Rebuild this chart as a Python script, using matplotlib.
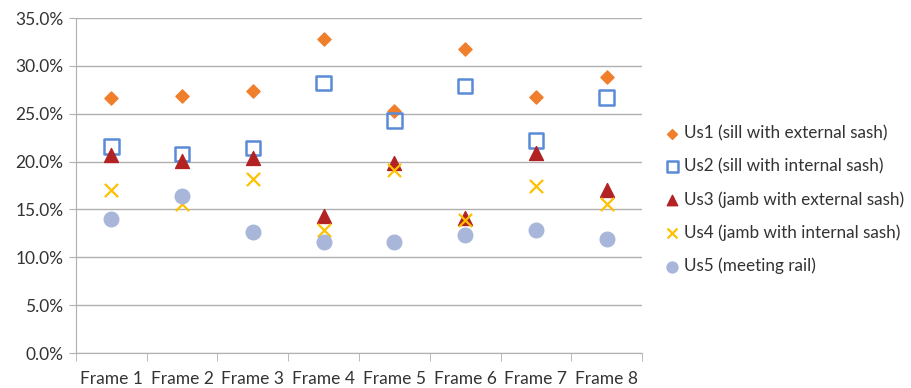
import numpy as np
import matplotlib.pyplot as plt
from matplotlib.ticker import FuncFormatter, FixedLocator

plt.rcParams['font.family'] = ['Lato', 'DejaVu Sans']

frames = ['Frame 1', 'Frame 2', 'Frame 3', 'Frame 4', 'Frame 5', 'Frame 6', 'Frame 7', 'Frame 8']
us1 = [26.6, 26.9, 27.4, 32.8, 25.3, 31.8, 26.7, 28.8]
us2 = [21.6, 20.8, 21.4, 28.2, 24.3, 27.9, 22.2, 26.7]
us3 = [20.7, 20.1, 20.4, 14.3, 19.9, 14.1, 20.9, 17.0]
us4 = [17.0, 15.6, 18.2, 12.9, 19.1, 13.9, 17.4, 15.6]
us5 = [14.0, 16.4, 12.6, 11.6, 11.6, 12.3, 12.8, 11.9]
labels = ['Us1 (sill with external sash)', 'Us2 (sill with internal sash)',
          'Us3 (jamb with external sash)', 'Us4 (jamb with internal sash)',
          'Us5 (meeting rail)']

fig = plt.figure(figsize=(9.12, 3.88), dpi=100)
ax = fig.add_axes([0.0833, 0.0902, 0.6207, 0.8634])

x = np.arange(len(frames))
ax.scatter(x, us1, marker='D', s=45, color='#F07F2C', label=labels[0], zorder=3)
ax.scatter(x, us2, marker='s', s=110, facecolors='none', edgecolors='#5B8BD6', linewidths=1.8, label=labels[1], zorder=3)
ax.scatter(x, us3, marker='^', s=100, color='#B22222', label=labels[2], zorder=3)
ax.scatter(x, us4, marker='x', s=90, color='#FFC000', linewidths=1.6, label=labels[3], zorder=3)
ax.scatter(x, us5, marker='o', s=110, color='#A8B6DA', label=labels[4], zorder=3)

ax.set_xlim(-0.5, 7.5)
ax.set_ylim(0, 35)
ax.set_yticks(np.arange(0, 36, 5))
ax.yaxis.set_major_formatter(FuncFormatter(lambda v, p: '%.1f%%' % v))
ax.grid(axis='y', color='#B0B0B0', linewidth=1)
ax.set_axisbelow(True)

ax.set_xticks(x)
ax.set_xticklabels(frames)
ax.xaxis.set_minor_locator(FixedLocator(np.arange(-0.5, 8, 1)))
ax.tick_params(axis='x', which='major', length=0, pad=13)
ax.tick_params(axis='x', which='minor', length=6, color='#B0B0B0', direction='out')
ax.tick_params(axis='y', length=5, color='#B0B0B0', pad=4)
ax.tick_params(labelsize=12.5, labelcolor='#333333')

for s in ['top', 'right']:
    ax.spines[s].set_visible(False)
for s in ['left', 'bottom']:
    ax.spines[s].set_color('#B0B0B0')

ax.legend(loc='center left', bbox_to_anchor=(0.712, 0.485), bbox_transform=fig.transFigure,
          frameon=False, fontsize=12.3, labelspacing=0.98, handletextpad=0.2,
          handlelength=0.9, markerscale=0.75, labelcolor='#333333')

fig.savefig('out.png', dpi=100)
